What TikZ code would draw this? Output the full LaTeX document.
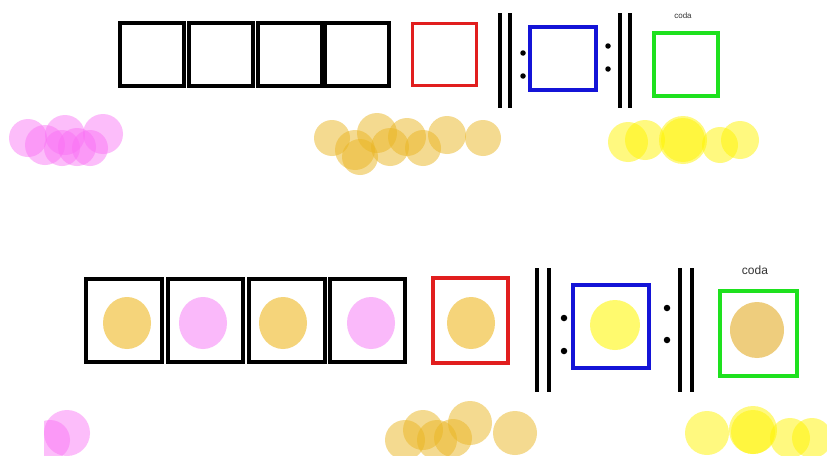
\documentclass[tikz,border=0pt]{standalone}
\usepackage{fontspec}
\setmainfont{Liberation Sans}
\usetikzlibrary{shapes.geometric}
\begin{document}
\begin{tikzpicture}[x=1pt,y=-1pt,
  box/.style={draw=black,line width=3.4pt,minimum width=#1,inner sep=0pt},
  bar/.style={line width=3.6pt,black},
  dotm/.style={circle,fill=black,minimum size=5.5pt,inner sep=0pt},
  pinkb/.style={fill={rgb,255:red,250;green,110;blue,245},fill opacity=0.45},
  goldb/.style={fill={rgb,255:red,235;green,182;blue,35},fill opacity=0.5},
  yelb/.style={fill={rgb,255:red,255;green,245;blue,0},fill opacity=0.5},
  goldin/.style={ellipse,fill={rgb,255:red,245;green,212;blue,122},minimum width=48pt,minimum height=52pt,inner sep=0pt},
  pinkin/.style={ellipse,fill={rgb,255:red,250;green,185;blue,250},minimum width=48pt,minimum height=52pt,inner sep=0pt},
  yelin/.style={ellipse,fill={rgb,255:red,255;green,250;blue,110},minimum width=50pt,minimum height=50pt,inner sep=0pt},
  codaT/.style={font=\fontsize{8}{9}\selectfont,text=black!80}
]
\useasboundingbox (0,0) rectangle (827,455);
\fill[white] (0,0) rectangle (827,455);

% ---------- top row ----------
\node[box=64pt,minimum height=63pt] (t1) at (152,54.5) {};
\node[box=64pt,minimum height=63pt] (t2) at (221,54.5) {};
\node[box=64pt,minimum height=63pt] (t3) at (290,54.5) {};
\node[box=64pt,minimum height=63pt] (t4) at (357,54.5) {};
\node[box=64pt,minimum height=62pt,line width=3pt,draw={rgb,255:red,225;green,30;blue,30}] (t5) at (444,54.5) {};
\coordinate (tb1a) at (500,13); \coordinate (tb1b) at (500,108);
\coordinate (tb2a) at (510,13); \coordinate (tb2b) at (510,108);
\draw[bar] (tb1a) -- (tb1b);
\draw[bar] (tb2a) -- (tb2b);
\node[dotm] (td1) at (523,53) {};
\node[dotm] (td2) at (523,76) {};
\node[box=66pt,minimum height=63pt,draw={rgb,255:red,20;green,20;blue,215}] (t6) at (563,58.5) {};
\node[dotm] (td3) at (608,46) {};
\node[dotm] (td4) at (608,69) {};
\coordinate (tb3a) at (620,13); \coordinate (tb3b) at (620,108);
\coordinate (tb4a) at (630,13); \coordinate (tb4b) at (630,108);
\draw[bar] (tb3a) -- (tb3b);
\draw[bar] (tb4a) -- (tb4b);
\node[box=64pt,minimum height=63pt,draw={rgb,255:red,30;green,225;blue,30}] (t7) at (686,64.5) {};
\node[codaT] (tcoda) at (683,16) {coda};

% top blobs
\foreach \x/\y/\r in {28/138/19,45/145/20,65/135/20,77/147/19,90/148/18,103/134/20,62/148/18}
  \fill[pinkb] (\x,\y) circle (\r);
\foreach \x/\y/\r in {332/138/18,355/150/20,377/133/20,360/157/18,390/147/19,407/137/19,423/148/18,447/135/19,483/138/18}
  \fill[goldb] (\x,\y) circle (\r);
\foreach \x/\y/\r in {628/142/20,645/140/20,683/140/24,683/140/22,720/145/18,740/140/19}
  \fill[yelb] (\x,\y) circle (\r);

% ---------- bottom row ----------
\node[box=76pt,minimum height=83pt] (b1) at (124,320.5) {};
\node[box=75pt,minimum height=83pt] (b2) at (205.5,320.5) {};
\node[box=76pt,minimum height=83pt] (b3) at (287,320.5) {};
\node[box=75pt,minimum height=83pt] (b4) at (367.5,320.5) {};
\node[box=75pt,minimum height=85pt,draw={rgb,255:red,225;green,30;blue,30}] (b5) at (470.5,320.5) {};
\node[goldin] (c1) at (127,323) {};
\node[pinkin] (c2) at (203,323) {};
\node[goldin] (c3) at (283,323) {};
\node[pinkin] (c4) at (371,323) {};
\node[goldin] (c5) at (471,323) {};
\coordinate (bb1a) at (537,268); \coordinate (bb1b) at (537,392);
\coordinate (bb2a) at (549,268); \coordinate (bb2b) at (549,392);
\draw[bar,line width=3.8pt] (bb1a) -- (bb1b);
\draw[bar,line width=3.8pt] (bb2a) -- (bb2b);
\node[dotm,minimum size=6.5pt] (bd1) at (564,318) {};
\node[dotm,minimum size=6.5pt] (bd2) at (564,351) {};
\node[box=76pt,minimum height=83pt,draw={rgb,255:red,20;green,20;blue,215}] (b6) at (611,326.5) {};
\node[yelin] (c6) at (615,325) {};
\node[dotm,minimum size=6.5pt] (bd3) at (667,308) {};
\node[dotm,minimum size=6.5pt] (bd4) at (667,340) {};
\coordinate (bb3a) at (680,268); \coordinate (bb3b) at (680,392);
\coordinate (bb4a) at (692,268); \coordinate (bb4b) at (692,392);
\draw[bar,line width=3.8pt] (bb3a) -- (bb3b);
\draw[bar,line width=3.8pt] (bb4a) -- (bb4b);
\node[box=77pt,minimum height=85pt,draw={rgb,255:red,30;green,225;blue,30}] (b7) at (758.5,333.5) {};
\node[goldin,minimum width=54pt,minimum height=56pt,fill={rgb,255:red,238;green,205;blue,125}] (c7) at (757,330) {};
\node[codaT,font=\fontsize{12}{14}\selectfont] (bcoda) at (755,270) {coda};

% bottom blobs
\begin{scope}
\clip (44,390) rectangle (827,455);
\foreach \x/\y/\r in {67/433/23,50/440/20}
  \fill[pinkb] (\x,\y) circle (\r);
\end{scope}
\foreach \x/\y/\r in {405/440/20,423/430/20,437/440/20,453/438/19,470/423/22,515/433/22}
  \fill[goldb] (\x,\y) circle (\r);
\foreach \x/\y/\r in {707/433/22,753/430/24,753/432/22,790/438/20,812/438/20}
  \fill[yelb] (\x,\y) circle (\r);
\end{tikzpicture}
\end{document}
